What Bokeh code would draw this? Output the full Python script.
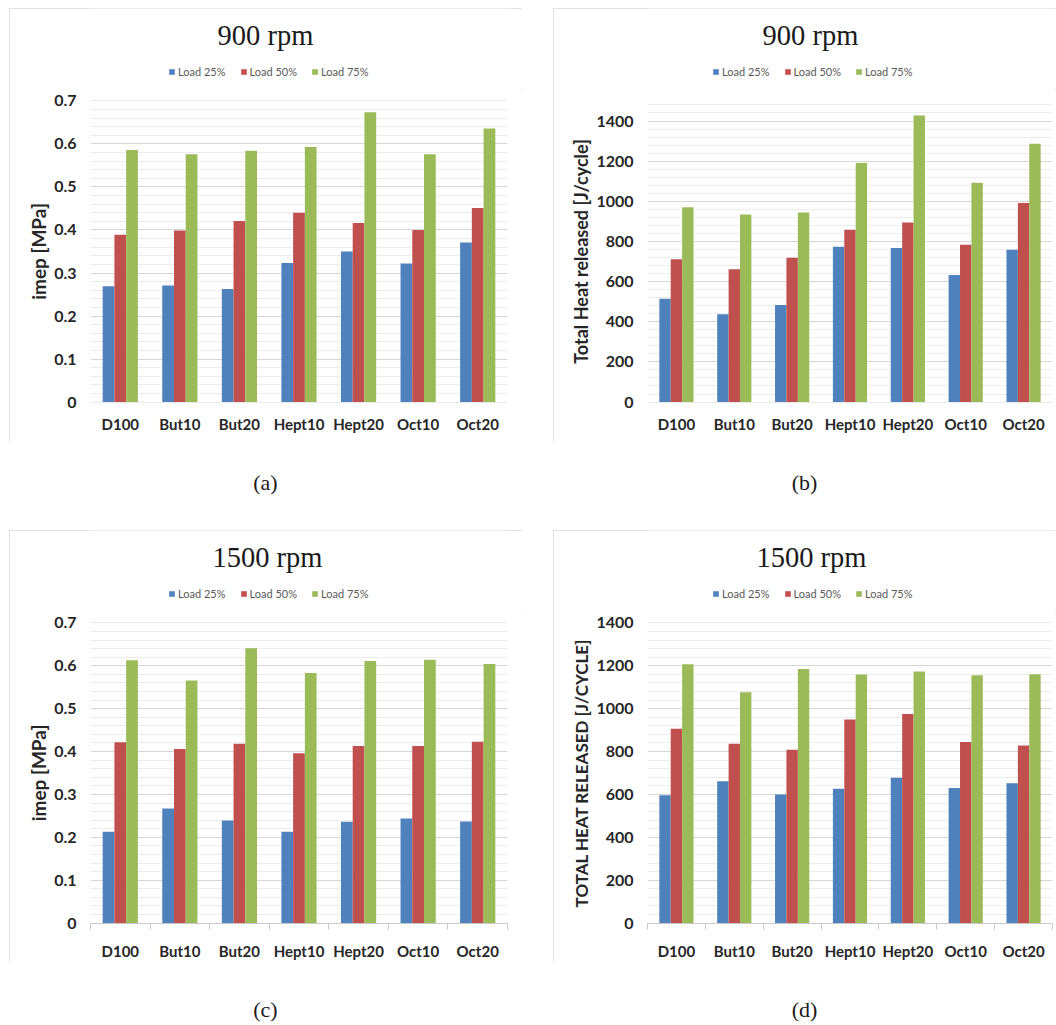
from bokeh.plotting import figure
from bokeh.models import (ColumnDataSource, Range1d, FixedTicker, Legend, LegendItem,
                          Label, Div, Spacer)
from bokeh.layouts import row, column
from bokeh.transform import dodge
from bokeh.embed import file_html
from bokeh.resources import INLINE

# ---- data -------------------------------------------------------------
fuels = ["D100", "But10", "But20", "Hept10", "Hept20", "Oct10", "Oct20"]
load_labels = ["Load 25%", "Load 50%", "Load 75%"]
load_colors = ["#4F81BD", "#C0504D", "#9BBB59"]

imep_900_25 = [0.269, 0.271, 0.263, 0.323, 0.350, 0.322, 0.371]
imep_900_50 = [0.389, 0.399, 0.421, 0.440, 0.416, 0.400, 0.451]
imep_900_75 = [0.586, 0.576, 0.584, 0.593, 0.674, 0.576, 0.636]

heat_900_25 = [515, 437, 484, 774, 767, 633, 759]
heat_900_50 = [711, 661, 719, 858, 895, 784, 992]
heat_900_75 = [971, 934, 944, 1191, 1427, 1092, 1287]

imep_1500_25 = [0.213, 0.267, 0.239, 0.213, 0.236, 0.244, 0.237]
imep_1500_50 = [0.422, 0.406, 0.418, 0.396, 0.413, 0.413, 0.423]
imep_1500_75 = [0.613, 0.566, 0.641, 0.583, 0.611, 0.614, 0.604]

heat_1500_25 = [596, 661, 600, 627, 678, 630, 652]
heat_1500_50 = [907, 836, 808, 950, 975, 845, 828]
heat_1500_75 = [1207, 1077, 1185, 1159, 1174, 1156, 1161]

imep_ticks = [0, 0.1, 0.2, 0.3, 0.4, 0.5, 0.6, 0.7]
imep_tick_labels = ["0", "0.1", "0.2", "0.3", "0.4", "0.5", "0.6", "0.7"]
heat_ticks = [0, 200, 400, 600, 800, 1000, 1200, 1400]
heat_tick_labels = ["0", "200", "400", "600", "800", "1000", "1200", "1400"]

# ---- styling ----------------------------------------------------------
SANS = "Lato"
SERIF = "Liberation Serif"
DARK = "#262626"
BAR_W = 0.197
OFFSETS = [-BAR_W, 0.0, BAR_W]
HEADER_H = 80


def make_header(title, width, src, title_x, legend_x):
    """Title and legend strip above the bars (its frame lines up with the
    frame of the chart below it)."""
    h = figure(width=width, height=HEADER_H, output_backend="svg",
               toolbar_location=None, tools="",
               x_axis_location=None, y_axis_location=None,
               x_range=Range1d(0, 1), y_range=Range1d(0, 1),
               min_border=0, outline_line_color=None,
               background_fill_color="white", border_fill_color="white")
    h.grid.visible = False
    h.add_layout(Label(x=title_x, y=53, x_units="screen", y_units="screen",
                       text=title, text_font=SERIF, text_font_size="28.5px",
                       text_color="#1a1a1a", text_align="center",
                       text_baseline="middle"))
    # legend keys: same series as the chart, only their swatches are shown
    keys = []
    for k, c in enumerate(load_colors):
        r = h.vbar(x="pos", top="s%d" % k, width=0.1, source=src,
                   fill_color=c, line_color=None)
        r.visible = False
        keys.append(r)
    legend = Legend(items=[LegendItem(label=l, renderers=[r])
                           for l, r in zip(load_labels, keys)],
                    orientation="horizontal", location=(legend_x, 10),
                    glyph_width=7, glyph_height=7, label_height=12,
                    label_width=10, label_standoff=3, spacing=14,
                    padding=0, margin=0, border_line_color=None,
                    background_fill_alpha=0, inactive_fill_alpha=0,
                    label_text_font=SANS, label_text_font_size="11px",
                    label_text_color="#595959")
    h.add_layout(legend, "center")
    return h


def make_panel(series, ticks, tick_labels, minor_step, n_minor, y_end, y_title,
               y_title_size, title, width, height, b_left, b_right, b_bottom,
               axis_line, title_x, legend_x):
    centers = [i + 0.5 for i in range(len(fuels))]
    data = {"pos": centers}
    for k, s in enumerate(series):
        data["s%d" % k] = s
    src = ColumnDataSource(data)

    p = figure(width=width, height=height - HEADER_H, output_backend="svg",
               toolbar_location=None, tools="",
               x_range=Range1d(0, len(fuels)),
               y_range=Range1d(-y_end * 0.0015, y_end * 1.0015),
               min_border_left=b_left, min_border_right=b_right,
               min_border_top=12, min_border_bottom=b_bottom,
               background_fill_color="white", border_fill_color="white",
               outline_line_color=None)

    for k in range(len(series)):
        p.vbar(x=dodge("pos", OFFSETS[k], range=p.x_range), top="s%d" % k,
               width=BAR_W, bottom=0, source=src,
               fill_color=load_colors[k], line_color=None)

    # x axis: labels at category centres, small ticks at category borders
    xax = p.xaxis[0]
    xax.ticker = FixedTicker(ticks=centers,
                             minor_ticks=list(range(len(fuels) + 1)))
    xax.major_label_overrides = {c: f for c, f in zip(centers, fuels)}
    xax.major_tick_line_color = None
    xax.major_tick_in = 0
    xax.major_tick_out = 0
    xax.minor_tick_in = 0
    if axis_line:
        xax.axis_line_color = "#c8c8c8"
        xax.minor_tick_line_color = "#c8c8c8"
        xax.minor_tick_out = 6
    else:
        xax.axis_line_color = None
        xax.minor_tick_line_color = None
        xax.minor_tick_out = 0
    xax.major_label_standoff = 12
    xax.major_label_text_font = SANS
    xax.major_label_text_font_style = "bold"
    xax.major_label_text_font_size = "15px"
    xax.major_label_text_color = DARK

    # y axis
    minor = [i * minor_step for i in range(n_minor) if i % 5]
    yax = p.yaxis[0]
    yax.ticker = FixedTicker(ticks=ticks, minor_ticks=minor)
    yax.major_label_overrides = {t: l for t, l in zip(ticks, tick_labels)}
    yax.axis_line_color = None
    yax.major_tick_line_color = None
    yax.minor_tick_line_color = None
    yax.major_tick_in = 0
    yax.major_tick_out = 0
    yax.minor_tick_in = 0
    yax.minor_tick_out = 0
    yax.major_label_standoff = 14
    yax.major_label_text_font = SANS
    yax.major_label_text_font_style = "bold"
    yax.major_label_text_font_size = "16px"
    yax.major_label_text_color = DARK
    yax.axis_label = y_title
    yax.axis_label_standoff = 1
    yax.axis_label_text_font = SANS
    yax.axis_label_text_font_style = "bold"
    yax.axis_label_text_font_size = y_title_size
    yax.axis_label_text_color = DARK

    p.xgrid.grid_line_color = None
    p.ygrid.grid_line_color = "#d6d6d6"
    p.ygrid.minor_grid_line_color = "#ececec"

    box = column(make_header(title, width, src, title_x, legend_x), p)
    box.styles = {"outline": "1px solid #d9d9d9", "outline-offset": "-1px"}
    return box


pa = make_panel([imep_900_25, imep_900_50, imep_900_75], imep_ticks,
                imep_tick_labels, 0.02, 36, 0.7, "imep [MPa]", "19px",
                "900 rpm", 513, 434, 81, 15, 40, False, 175, 78)
pb = make_panel([heat_900_25, heat_900_50, heat_900_75], heat_ticks,
                heat_tick_labels, 40, 38, 1500, "Total Heat released [J/cycle]",
                "18px", "900 rpm", 503, 434, 94, 4, 40, False, 163, 65)
pc = make_panel([imep_1500_25, imep_1500_50, imep_1500_75], imep_ticks,
                imep_tick_labels, 0.02, 36, 0.7, "imep [MPa]", "19px",
                "1500 rpm", 513, 432, 81, 15, 38, True, 177, 78)
pd = make_panel([heat_1500_25, heat_1500_50, heat_1500_75], heat_ticks,
                heat_tick_labels, 40, 36, 1400, "TOTAL HEAT RELEASED [J/CYCLE]",
                "17px", "1500 rpm", 503, 432, 94, 4, 38, True, 164, 65)


def caption(text, width, height, pad, shift):
    html = ('<div style="width:%dpx;text-align:center;font-family:\'Liberation Serif\';'
            'font-size:22px;color:#1a1a1a;padding-top:%dpx;padding-left:%dpx;">%s</div>'
            % (width - shift, pad, shift, text))
    return Div(text=html, width=width, height=height, margin=0)


page = column(
    Spacer(height=8),
    row(Spacer(width=9), pa, Spacer(width=31), pb),
    row(Spacer(width=9), caption("(a)", 513, 88, 25, 2), Spacer(width=31),
        caption("(b)", 503, 88, 25, 5)),
    row(Spacer(width=9), pc, Spacer(width=31), pd),
    row(Spacer(width=9), caption("(c)", 513, 63, 32, 2), Spacer(width=31),
        caption("(d)", 503, 63, 32, 5)),
)

open("out.html", "w").write(file_html(page, INLINE))
